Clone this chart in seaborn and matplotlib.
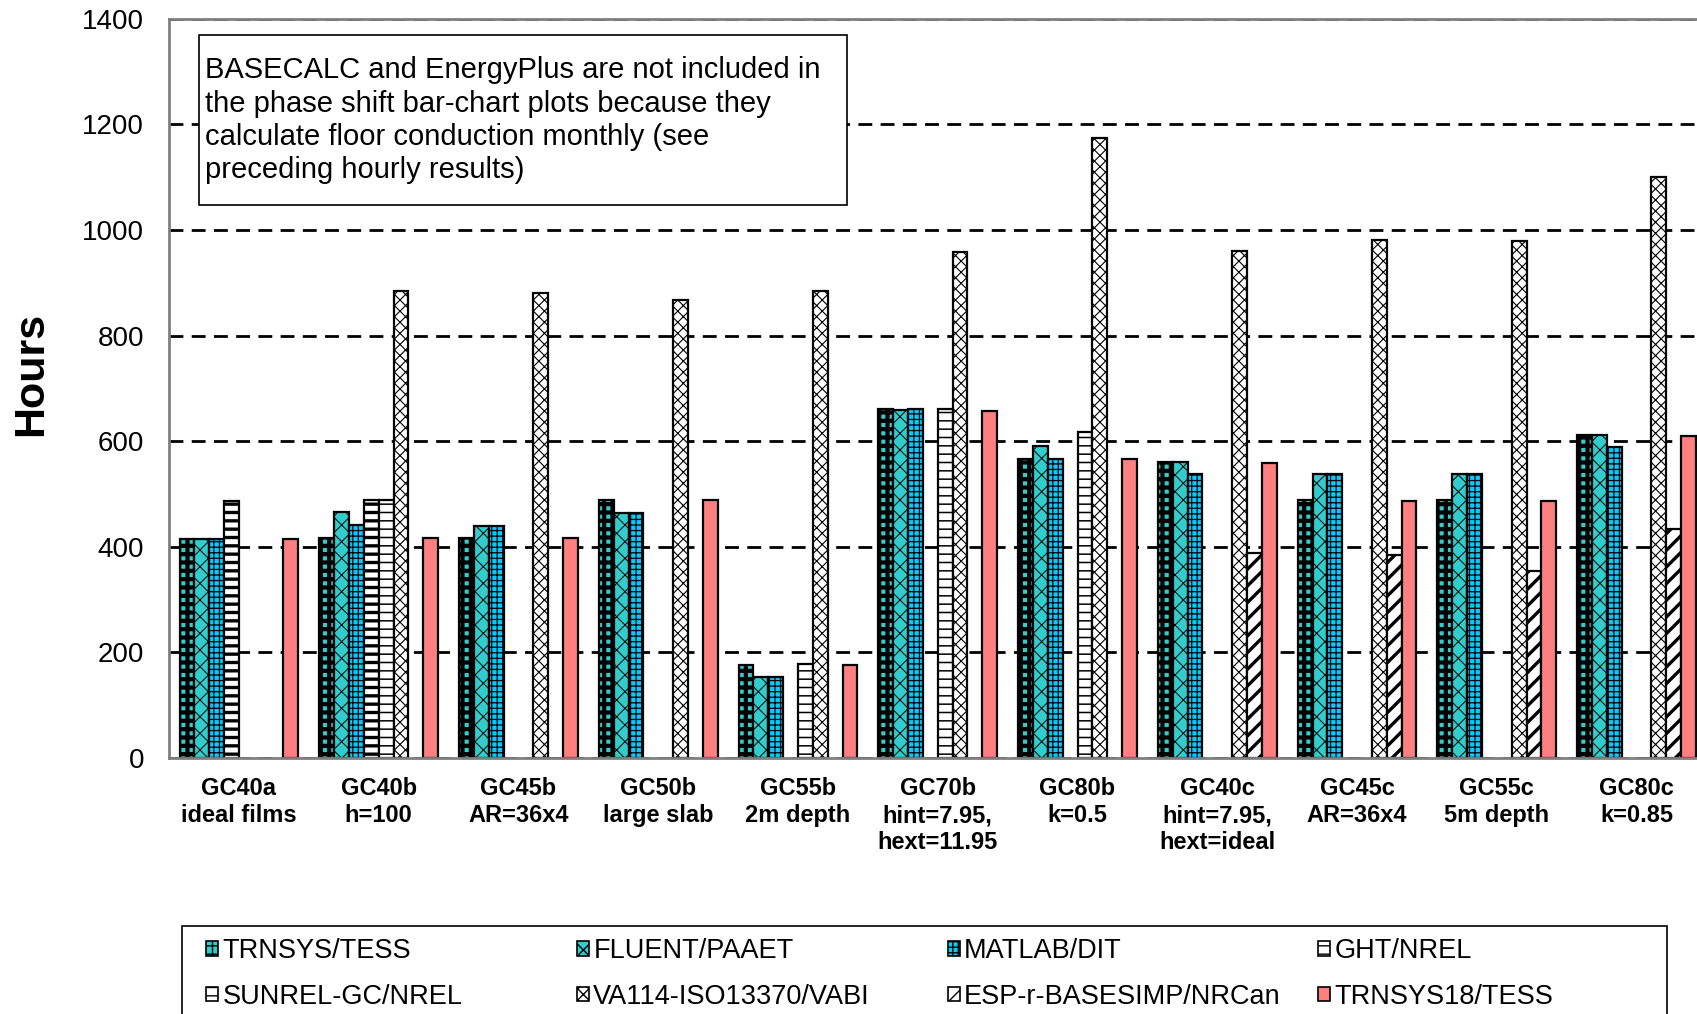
import numpy as np
import pandas as pd
import matplotlib.pyplot as plt
import seaborn as sns
from matplotlib.patches import Patch, Rectangle

# Data (hours of phase shift)
tests = ["GC40a\nideal films", "GC40b\nh=100", "GC45b\nAR=36x4", "GC50b\nlarge slab",
         "GC55b\n2m depth", "GC70b\nhint=7.95,\nhext=11.95", "GC80b\nk=0.5",
         "GC40c\nhint=7.95,\nhext=ideal", "GC45c\nAR=36x4", "GC55c\n5m depth", "GC80c\nk=0.85"]
programs = ["TRNSYS/TESS", "FLUENT/PAAET", "MATLAB/DIT", "GHT/NREL",
            "SUNREL-GC/NREL", "VA114-ISO13370/VABI", "ESP-r-BASESIMP/NRCan", "TRNSYS18/TESS"]

trnsys_tess = [415, 416, 416, 489, 176, 660, 567, 561, 489, 489, 612]
fluent_paaet = [415, 465, 440, 464, 153, 659, 591, 561, 537, 537, 612]
matlab_dit = [415, 441, 440, 464, 153, 660, 566, 537, 537, 537, 589]
ght_nrel = [487, 488, None, None, None, None, None, None, None, None, None]
sunrel_nrel = [None, 488, None, None, 178, 661, 618, None, None, None, None]
va114_vabi = [None, 885, 880, 867, 885, 958, 1174, 961, 981, 979, 1100]
esp_r_nrcan = [None, None, None, None, None, None, None, 388, 385, 354, 433]
trnsys18_tess = [415, 416, 416, 489, 176, 657, 566, 559, 487, 487, 610]

series = [trnsys_tess, fluent_paaet, matlab_dit, ght_nrel,
          sunrel_nrel, va114_vabi, esp_r_nrcan, trnsys18_tess]

rows = []
for prog, vals in zip(programs, series):
    for t, v in zip(tests, vals):
        rows.append({"Test": t, "Program": prog, "Hours": np.nan if v is None else v})
df = pd.DataFrame(rows)

colors = ["#33CCCC", "#33CCCC", "#00CCFF", "white", "white", "white", "white", "#FF8080"]
hatches = ["++", "xx", "+++", "--", "--", "xxx", "//", ""]
hatch_lw = [3.0, 0.7, 0.9, 2.4, 1.1, 0.8, 2.4, 1.0]

sns.set_style("white")
plt.rcParams["font.family"] = ["Liberation Sans", "DejaVu Sans"]
plt.rcParams["text.color"] = "black"
plt.rcParams["axes.labelcolor"] = "black"

fig = plt.figure(figsize=(16.97, 10.14), dpi=100)
ax = fig.add_axes([0.0996, 0.2525, 0.906, 0.729])

sns.barplot(data=df, x="Test", y="Hours", hue="Program", order=tests, hue_order=programs,
            palette=colors, width=0.85, errorbar=None, edgecolor="black", linewidth=1.6,
            saturation=1, legend=False, ax=ax)

for cont, h, lw in zip(ax.containers, hatches, hatch_lw):
    for bar in cont:
        bar.set_hatch(h)
        if hasattr(bar, "set_hatch_linewidth"):
            bar.set_hatch_linewidth(lw)

# Axes styling
ax.set_ylim(0, 1400)
ax.set_yticks(np.arange(0, 1401, 200))
ax.set_xlim(-0.5, len(tests) - 0.5)
ax.set_axisbelow(True)
ax.yaxis.grid(True, color="black", linestyle=(0, (5, 3)), linewidth=2)
ax.xaxis.grid(False)
for side in ax.spines.values():
    side.set_color("#808080")
    side.set_linewidth(2)

ax.set_xticks(np.arange(-0.5, len(tests)), minor=True)
ax.tick_params(axis="x", which="major", length=0, pad=14, labelsize=17, labelcolor="black")
ax.tick_params(axis="x", which="minor", length=7, width=1.2, color="#808080", direction="out")
ax.tick_params(axis="y", length=7, width=1.2, color="#808080", direction="out",
               labelsize=20, pad=11, labelcolor="black")
for lab in ax.get_xticklabels():
    lab.set_fontweight("bold")
    lab.set_linespacing(1.2)

ax.set_xlabel("")
ax.set_ylabel("Hours", fontsize=31, fontweight="bold")
ax.yaxis.set_label_coords(-0.077, 0.52)

# Note box
fig.add_artist(Rectangle((199 / 1697, 1 - 205 / 1014), 648 / 1697, 170 / 1014,
                         transform=fig.transFigure, facecolor="white",
                         edgecolor="black", linewidth=1.2))
fig.text(205 / 1697, 1 - 56 / 1014,
         "BASECALC and EnergyPlus are not included in\n"
         "the phase shift bar-chart plots because they\n"
         "calculate floor conduction monthly (see\n"
         "preceding hourly results)",
         fontsize=21, va="top", ha="left", linespacing=1.25)

# Legend: frame plus four columns of two entries each (row-wise order)
fig.add_artist(Rectangle((182 / 1697, -0.05), 1485 / 1697, 0.05 + 1 - 926 / 1014,
                         transform=fig.transFigure, facecolor="none",
                         edgecolor="black", linewidth=1.2))
handles = [Patch(facecolor=c, edgecolor="black", hatch=h, linewidth=1.2)
           for c, h in zip(colors, hatches)]
col_x = [206, 577, 948, 1318]
for i, x in enumerate(col_x):
    fig.legend(handles=[handles[i], handles[i + 4]], labels=[programs[i], programs[i + 4]],
               loc="upper left", bbox_to_anchor=(x / 1697, 1 - 938 / 1014),
               fontsize=19.5, frameon=False, handlelength=0.45, handleheight=0.45,
               handletextpad=0.15, labelspacing=0.72, borderpad=0, borderaxespad=0)

plt.savefig("out.png", dpi=100)
